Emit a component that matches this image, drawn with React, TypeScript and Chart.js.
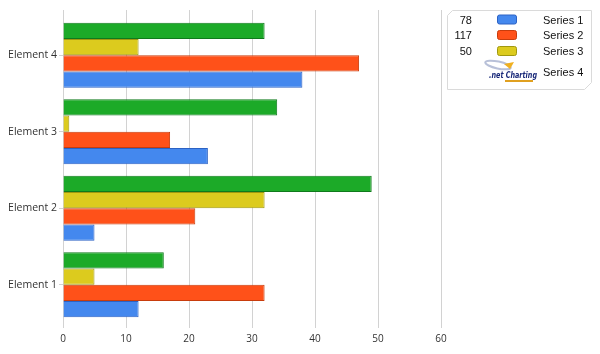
import React, { useEffect, useRef } from "react";
import { Chart, registerables } from "chart.js";

Chart.register(...registerables);

const categories = ["Element 4", "Element 3", "Element 2", "Element 1"];
const seriesNames = ["Series 1", "Series 2", "Series 3", "Series 4"];
const series1 = [38, 23, 5, 12];
const series2 = [47, 17, 21, 32];
const series3 = [12, 1, 32, 5];
const series4 = [32, 34, 49, 16];
const xMin = 0;
const xMax = 60;
const xStep = 10;
const legendValues = ["78", "117", "50", ""];

const fills = ["#4488ee", "#ff5119", "#dccb1e", "#1caa28"];
const borders = ["#2c62c4", "#c83c0c", "#a09810", "#0f7a1c"];
const GRID = "#d2d2d2";

const gridStub = {
  id: "gridStub",
  beforeDatasetsDraw(chart: any) {
    const { ctx, chartArea, scales } = chart;
    const x = scales.x;
    ctx.save();
    ctx.strokeStyle = GRID;
    ctx.lineWidth = 1;
    x.ticks.forEach((t: any) => {
      const px = Math.round(x.getPixelForValue(t.value)) + 0.5;
      ctx.beginPath();
      ctx.moveTo(px, chartArea.top - 7);
      ctx.lineTo(px, chartArea.top);
      ctx.stroke();
    });
    ctx.restore();
  },
};

export default function App() {
  const ref = useRef<HTMLCanvasElement | null>(null);

  useEffect(() => {
    if (!ref.current) return;
    const all = [series1, series2, series3, series4];
    const order = [3, 2, 1, 0];
    const chart = new Chart(ref.current, {
      type: "bar",
      data: {
        labels: categories,
        datasets: order.map((i) => ({
          label: seriesNames[i],
          data: all[i],
          backgroundColor: fills[i],
          borderColor: borders[i],
          borderWidth: 1,
          barPercentage: 1,
          categoryPercentage: 0.85,
        })),
      },
      options: {
        indexAxis: "y",
        animation: false,
        responsive: false,
        maintainAspectRatio: false,
        layout: { padding: { top: 17, right: 159, left: 0, bottom: 0 } },
        plugins: { legend: { display: false }, tooltip: { enabled: false } },
        scales: {
          x: {
            min: xMin,
            max: xMax,
            ticks: {
              stepSize: xStep,
              color: "#333",
              padding: 5,
              font: { family: "'Open Sans'", size: 10 },
            },
            grid: { color: GRID, tickLength: 5, drawTicks: true },
            border: { display: false },
            afterFit: (s: any) => {
              s.height = 31;
            },
          },
          y: {
            ticks: {
              color: "#333",
              padding: 2,
              font: { family: "'Open Sans'", size: 10.5 },
            },
            grid: {
              offset: false,
              drawOnChartArea: false,
              drawTicks: true,
              tickLength: 4,
              color: GRID,
            },
            border: { display: true, color: GRID },
            afterFit: (s: any) => {
              s.width = 63;
            },
          },
        },
      },
      plugins: [gridStub],
    });
    return () => chart.destroy();
  }, []);

  const rowY = [19.5, 35, 51, 72];

  return (
    <div style={{ position: "fixed", left: 0, top: 0, width: 600, height: 354, background: "#fff" }}>
      <canvas ref={ref} width={600} height={354} style={{ position: "absolute", left: 0, top: 0 }} />
      <svg width={600} height={354} style={{ position: "absolute", left: 0, top: 0, pointerEvents: "none" }}>
        <polygon
          points="447.5,15.5 452.5,10.5 591.5,10.5 591.5,82.5 584.5,89.5 447.5,89.5"
          fill="#fff"
          stroke="#dadada"
          strokeWidth={1}
        />
        {seriesNames.map((name, i) => (
          <g key={name}>
            {legendValues[i] !== "" && (
              <text
                x={472}
                y={rowY[i] + 4}
                textAnchor="end"
                fontFamily="'Liberation Sans', Arial, sans-serif"
                fontSize={11}
                fill="#111"
              >
                {legendValues[i]}
              </text>
            )}
            {i < 3 && (
              <rect
                x={497.5}
                y={rowY[i] - 4.5}
                width={19}
                height={9}
                rx={2}
                fill={fills[i]}
                stroke={borders[i]}
                strokeWidth={1}
              />
            )}
            <text
              x={543}
              y={rowY[i] + 4}
              fontFamily="'Liberation Sans', Arial, sans-serif"
              fontSize={11}
              fill="#111"
            >
              {name}
            </text>
          </g>
        ))}
        <g>
          <ellipse cx={498} cy={65} rx={13} ry={3.5} fill="none" stroke="#b8c0d8" strokeWidth={2} transform="rotate(12 498 65)" />
          <path d="M504,64 L514,62 L510,69 Z" fill="#f0b020" />
          <text
            x={489}
            y={78}
            fontFamily="'DejaVu Sans', sans-serif"
            fontStyle="italic"
            fontWeight="bold"
            fontSize={8.5}
            fill="#1a2a7a"
            textLength={48}
            lengthAdjust="spacingAndGlyphs"
          >
            .net Charting
          </text>
          <rect x={505} y={80} width={28} height={2} fill="#e0a020" />
        </g>
      </svg>
    </div>
  );
}
